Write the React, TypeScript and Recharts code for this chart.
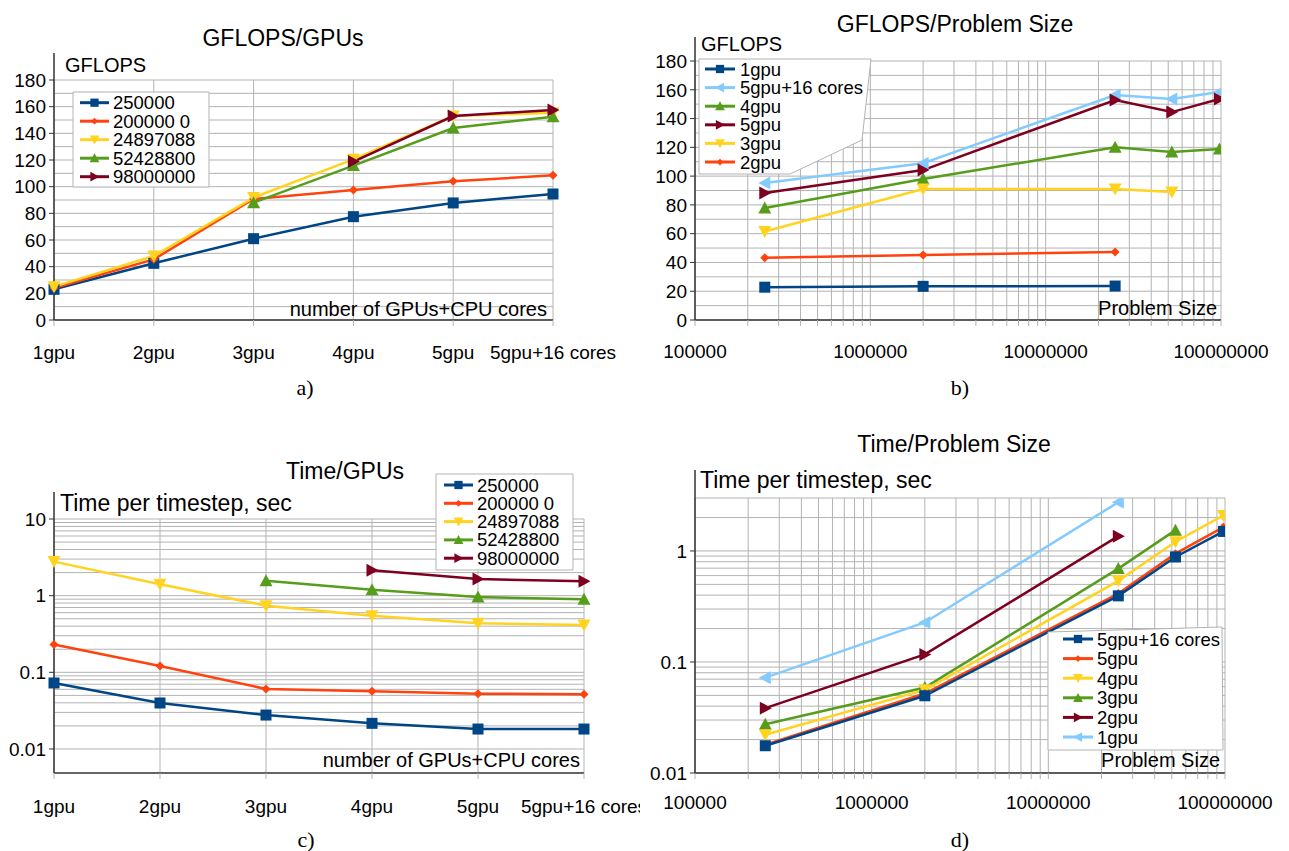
import React from "react";
import { CartesianGrid, Line, LineChart, XAxis, YAxis } from "recharts";

// categories
const gpuConfigs = ["1gpu", "2gpu", "3gpu", "4gpu", "5gpu", "5gpu+16 cores"];
const problemSizes = [250000, 2000000, 24897088, 52428800, 98000000];
const sizeLabels = ["250000", "200000 0", "24897088", "52428800", "98000000"];

// a) GFLOPS vs gpu config, one array per problem size
const gflops250000 = [23, 42.5, 61, 77.5, 87.8, 94.5];
const gflops2000000 = [24, 45.5, 90.8, 97.5, 104, 108.5];
const gflops24897088 = [25, 48, 91.8, 120.5, 153, 155.5];
const gflops52428800 = [null, null, 88, 115.8, 144, 152.5];
const gflops98000000 = [null, null, null, 118.8, 153, 157.5];

// b) GFLOPS vs problem size, one array per gpu config
const bGflops1gpu = [22.8, 23.4, 23.6];
const bGflops2gpu = [43.2, 45.2, 47.3];
const bGflops3gpu = [61.5, 91, 91, 89];
const bGflops4gpu = [77.8, 98, 120, 116.7, 118.8];
const bGflops5gpu = [88.3, 104.2, 152.9, 144.5, 153.6];
const bGflops5gpu16 = [95.2, 109, 156.4, 153.6, 158.4];

// c) time per timestep vs gpu config, one array per problem size
const time250000 = [0.0726, 0.0398, 0.0277, 0.0216, 0.0182, 0.0182];
const time2000000 = [0.23, 0.121, 0.0606, 0.0565, 0.0527, 0.0517];
const time24897088 = [2.78, 1.41, 0.741, 0.548, 0.436, 0.414];
const time52428800 = [null, null, 1.57, 1.19, 0.96, 0.896];
const time98000000 = [null, null, null, 2.14, 1.65, 1.54];

// d) time per timestep vs problem size, one array per gpu config
const dTime5gpu16 = [0.0176, 0.0496, 0.394, 0.883, 1.5];
const dTime5gpu = [0.018, 0.052, 0.414, 0.946, 1.64];
const dTime4gpu = [0.0221, 0.0561, 0.538, 1.21, 2.09];
const dTime3gpu = [0.0275, 0.0589, 0.694, 1.54];
const dTime2gpu = [0.0384, 0.117, 1.36];
const dTime1gpu = [0.0722, 0.227, 2.75];

// ticks
const gflopsTicks = [0, 20, 40, 60, 80, 100, 120, 140, 160, 180];
const gflopsGrid = [0, 10, 20, 30, 40, 50, 60, 70, 80, 90, 100, 110, 120, 130, 140, 150, 160, 170, 180];
const timeTicksC = [0.01, 0.1, 1, 10];
const timeTicksD = [0.01, 0.1, 1];
const sizeDecades = [100000, 1000000, 10000000, 100000000];

const logSteps = (from: number, to: number) => {
  const out: number[] = [];
  for (let d = from; d < to * 0.999; d *= 10) {
    for (let k = 1; k <= 9; k++) out.push(k * d);
  }
  out.push(to);
  return out;
};
const sizeGrid = logSteps(100000, 100000000);
const timeGridC = logSteps(0.01, 10);
const timeGridD = [...logSteps(0.01, 1), 2, 3];

const BLUE = { color: "#004586", shape: "square" };
const ORANGE = { color: "#ff420e", shape: "diamond" };
const YELLOW = { color: "#ffd320", shape: "down" };
const GREEN = { color: "#579d1c", shape: "up" };
const DARKRED = { color: "#7e0021", shape: "right" };
const LIGHTBLUE = { color: "#83caff", shape: "left" };

const sizeStyles = [BLUE, ORANGE, YELLOW, GREEN, DARKRED];
const sizeSeries = sizeLabels.map((label, i) => ({ key: "s" + i, label, ...sizeStyles[i] }));

const gflopsByGpu = gpuConfigs.map((gpu, i) => ({
  gpu,
  s0: gflops250000[i],
  s1: gflops2000000[i],
  s2: gflops24897088[i],
  s3: gflops52428800[i],
  s4: gflops98000000[i],
}));
const timeByGpu = gpuConfigs.map((gpu, i) => ({
  gpu,
  s0: time250000[i],
  s1: time2000000[i],
  s2: time24897088[i],
  s3: time52428800[i],
  s4: time98000000[i],
}));

const toRows = (vals: number[]) => vals.map((v, i) => ({ size: problemSizes[i], v }));

const bSeries = [
  { label: "1gpu", rows: toRows(bGflops1gpu), ...BLUE },
  { label: "5gpu+16 cores", rows: toRows(bGflops5gpu16), ...LIGHTBLUE },
  { label: "4gpu", rows: toRows(bGflops4gpu), ...GREEN },
  { label: "5gpu", rows: toRows(bGflops5gpu), ...DARKRED },
  { label: "3gpu", rows: toRows(bGflops3gpu), ...YELLOW },
  { label: "2gpu", rows: toRows(bGflops2gpu), ...ORANGE },
];
const dSeries = [
  { label: "5gpu+16 cores", rows: toRows(dTime5gpu16), ...BLUE },
  { label: "5gpu", rows: toRows(dTime5gpu), ...ORANGE },
  { label: "4gpu", rows: toRows(dTime4gpu), ...YELLOW },
  { label: "3gpu", rows: toRows(dTime3gpu), ...GREEN },
  { label: "2gpu", rows: toRows(dTime2gpu), ...DARKRED },
  { label: "1gpu", rows: toRows(dTime1gpu), ...LIGHTBLUE },
];

const gridColor = "#b3b3b3";
const axisColor = "#333";
const FONT = "'Liberation Sans', Arial, sans-serif";
const tickStyle = { fontSize: 19, fill: "#000" };
const axisLine = { stroke: axisColor, strokeWidth: 1.5 };

const Marker = ({ cx, cy, shape, color, k = 1 }: any) => {
  const s = 5.5 * k;
  const t = 6.5 * k;
  switch (shape) {
    case "square":
      return <rect x={cx - s} y={cy - s} width={2 * s} height={2 * s} fill={color} />;
    case "diamond": {
      const d = 4.5 * k;
      return <polygon points={`${cx},${cy - d} ${cx + d},${cy} ${cx},${cy + d} ${cx - d},${cy}`} fill={color} />;
    }
    case "down":
      return <polygon points={`${cx - t},${cy - s} ${cx + t},${cy - s} ${cx},${cy + t}`} fill={color} />;
    case "up":
      return <polygon points={`${cx - t},${cy + s} ${cx + t},${cy + s} ${cx},${cy - t}`} fill={color} />;
    case "right":
      return <polygon points={`${cx - s},${cy - t} ${cx - s},${cy + t} ${cx + t},${cy}`} fill={color} />;
    default:
      return <polygon points={`${cx + s},${cy - t} ${cx + s},${cy + t} ${cx - t},${cy}`} fill={color} />;
  }
};

const dotFor = (shape: string, color: string) => (p: any) => {
  const ok = p.value != null && Number.isFinite(p.cx) && Number.isFinite(p.cy);
  return (
    <g key={`dot-${p.index}`}>{ok ? <Marker cx={p.cx} cy={p.cy} shape={shape} color={color} /> : null}</g>
  );
};

type LegendCfg = {
  frame: number[][];
  x0: number;
  x1: number;
  tx: number;
  y0: number;
  step: number;
  items: { label: string; color: string; shape: string }[];
};

const LegendBox = ({ frame, x0, x1, tx, y0, step, items }: LegendCfg) => (
  <g>
    <polygon points={frame.map((p) => p.join(",")).join(" ")} fill="#fff" stroke={gridColor} strokeWidth={1} />
    {items.map((it, i) => {
      const y = y0 + i * step;
      return (
        <g key={it.label}>
          <line x1={x0} x2={x1} y1={y} y2={y} stroke={it.color} strokeWidth={3} />
          <Marker cx={(x0 + x1) / 2} cy={y} shape={it.shape} color={it.color} k={0.75} />
          <text x={tx} y={y} dominantBaseline="central" fontSize={18.5} fill="#000">
            {it.label}
          </text>
        </g>
      );
    })}
  </g>
);

const Txt = ({ x, y, size = 20, anchor = "start", serif = false, children }: any) => (
  <text
    x={x}
    y={y}
    fontSize={size}
    textAnchor={anchor}
    fill="#000"
    fontFamily={serif ? "'Liberation Serif', 'Times New Roman', serif" : FONT}
  >
    {children}
  </text>
);

const App = () => {
  return (
    <div style={{ position: "absolute", left: 0, top: 0, width: 1289, height: 851, background: "#fff", fontFamily: FONT }}>
      {/* a) GFLOPS / GPUs */}
      <div style={{ position: "absolute", left: 0, top: 20 }}>
        <LineChart width={640} height={380} data={gflopsByGpu} margin={{ top: 60, right: 87, left: 0, bottom: 0 }}>
          <CartesianGrid stroke={gridColor} horizontalValues={gflopsGrid} />
          <XAxis dataKey="gpu" height={80} interval={0} tickSize={6} tickMargin={20} tick={tickStyle} axisLine={axisLine} tickLine={{ stroke: gridColor }} />
          <YAxis type="number" domain={[0, 180]} ticks={gflopsTicks} width={54} interval={0} tickSize={5} tickMargin={3} tick={tickStyle} axisLine={axisLine} tickLine={{ stroke: axisColor }} />
          {sizeSeries.map((s) => (
            <Line key={s.key} type="linear" dataKey={s.key} stroke={s.color} strokeWidth={2.5} dot={dotFor(s.shape, s.color)} activeDot={false} isAnimationActive={false} />
          ))}
        </LineChart>
      </div>

      {/* b) GFLOPS / Problem Size */}
      <div style={{ position: "absolute", left: 640, top: 0 }}>
        <LineChart width={649} height={400} margin={{ top: 61, right: 68, left: 0, bottom: 0 }}>
          <CartesianGrid stroke={gridColor} horizontalValues={gflopsGrid} />
          <XAxis dataKey="size" type="number" scale="log" domain={[100000, 100000000]} allowDataOverflow ticks={sizeGrid} interval={0} height={80} tickSize={6} tickMargin={19} tick={tickStyle} tickFormatter={(v: number) => (sizeDecades.includes(v) ? String(v) : "")} axisLine={axisLine} tickLine={{ stroke: gridColor }} />
          <YAxis type="number" domain={[0, 180]} ticks={gflopsTicks} width={55} interval={0} tickSize={5} tickMargin={3} tick={tickStyle} axisLine={axisLine} tickLine={{ stroke: axisColor }} />
          {bSeries.map((s) => (
            <Line key={s.label} data={s.rows} type="linear" dataKey="v" stroke={s.color} strokeWidth={2.5} dot={dotFor(s.shape, s.color)} activeDot={false} isAnimationActive={false} />
          ))}
        </LineChart>
      </div>

      {/* c) Time / GPUs */}
      <div style={{ position: "absolute", left: 0, top: 440 }}>
        <LineChart width={640} height={411} data={timeByGpu} margin={{ top: 79, right: 56, left: 0, bottom: 0 }}>
          <CartesianGrid stroke={gridColor} horizontalValues={timeGridC} />
          <XAxis dataKey="gpu" height={78} interval={0} tickSize={6} tickMargin={21} tick={tickStyle} axisLine={axisLine} tickLine={{ stroke: gridColor }} />
          <YAxis type="number" scale="log" domain={[0.00486, 10]} allowDataOverflow ticks={timeTicksC} width={54} interval={0} tickSize={5} tickMargin={3} tick={tickStyle} axisLine={axisLine} tickLine={{ stroke: axisColor }} />
          {sizeSeries.map((s) => (
            <Line key={s.key} type="linear" dataKey={s.key} stroke={s.color} strokeWidth={2.5} dot={dotFor(s.shape, s.color)} activeDot={false} isAnimationActive={false} />
          ))}
        </LineChart>
      </div>

      {/* d) Time / Problem Size */}
      <div style={{ position: "absolute", left: 640, top: 420 }}>
        <LineChart width={649} height={431} margin={{ top: 78, right: 64, left: 0, bottom: 0 }}>
          <CartesianGrid stroke={gridColor} horizontalValues={timeGridD} />
          <XAxis dataKey="size" type="number" scale="log" domain={[100000, 100000000]} allowDataOverflow ticks={sizeGrid} interval={0} height={78} tickSize={6} tickMargin={17} tick={tickStyle} tickFormatter={(v: number) => (sizeDecades.includes(v) ? String(v) : "")} axisLine={axisLine} tickLine={{ stroke: gridColor }} />
          <YAxis type="number" scale="log" domain={[0.01, 3]} allowDataOverflow ticks={timeTicksD} width={55} interval={0} tickSize={5} tickMargin={3} tick={tickStyle} axisLine={axisLine} tickLine={{ stroke: axisColor }} />
          {[...dSeries].reverse().map((s) => (
            <Line key={s.label} data={s.rows} type="linear" dataKey="v" stroke={s.color} strokeWidth={2.5} dot={dotFor(s.shape, s.color)} activeDot={false} isAnimationActive={false} />
          ))}
        </LineChart>
      </div>

      {/* titles, axis names, legends */}
      <svg width={1289} height={851} style={{ position: "absolute", left: 0, top: 0, pointerEvents: "none" }}>
        <line x1={54} x2={54} y1={53} y2={80} stroke={axisColor} strokeWidth={1.5} />
        <line x1={695} x2={695} y1={37} y2={61} stroke={axisColor} strokeWidth={1.5} />
        <line x1={54} x2={54} y1={492} y2={519} stroke={axisColor} strokeWidth={1.5} />
        <line x1={695} x2={695} y1={470} y2={498} stroke={axisColor} strokeWidth={1.5} />

        <Txt x={283} y={46} size={23} anchor="middle">GFLOPS/GPUs</Txt>
        <Txt x={955} y={32} size={23} anchor="middle">GFLOPS/Problem Size</Txt>
        <Txt x={345} y={479} size={23} anchor="middle">Time/GPUs</Txt>
        <Txt x={954} y={452} size={23} anchor="middle">Time/Problem Size</Txt>

        <Txt x={65} y={72}>GFLOPS</Txt>
        <Txt x={701} y={51}>GFLOPS</Txt>
        <Txt x={60} y={511} size={23}>Time per timestep, sec</Txt>
        <Txt x={700} y={488} size={23}>Time per timestep, sec</Txt>
        <Txt x={547} y={316} anchor="end">number of GPUs+CPU cores</Txt>
        <Txt x={580} y={767} anchor="end">number of GPUs+CPU cores</Txt>
        <Txt x={1217} y={315} anchor="end">Problem Size</Txt>
        <Txt x={1220} y={767} anchor="end">Problem Size</Txt>

        <Txt x={305} y={395} size={22} anchor="middle" serif>a)</Txt>
        <Txt x={960} y={395} size={22} anchor="middle" serif>b)</Txt>
        <Txt x={306} y={847} size={22} anchor="middle" serif>c)</Txt>
        <Txt x={960} y={847} size={22} anchor="middle" serif>d)</Txt>

        <LegendBox frame={[[73, 92], [209, 92], [209, 187], [73, 187]]} x0={80} x1={109} tx={113} y0={102.7} step={18.5} items={sizeSeries} />
        <LegendBox frame={[[699, 59], [871, 59], [862, 140], [790, 174], [699, 174]]} x0={705} x1={735} tx={740} y0={69} step={18.6} items={bSeries} />
        <LegendBox frame={[[436, 474], [573, 474], [573, 570], [436, 570]]} x0={444} x1={473} tx={477} y0={485} step={18.3} items={sizeSeries} />
        <LegendBox frame={[[1048, 632], [1222, 627], [1223, 750], [1048, 750]]} x0={1063} x1={1093} tx={1097} y0={639} step={19.6} items={dSeries} />
      </svg>
    </div>
  );
};

export default App;
